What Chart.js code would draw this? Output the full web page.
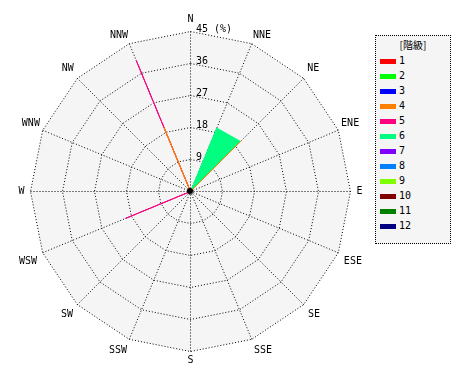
<!DOCTYPE html>
<html>
<head>
<meta charset="utf-8">
<script src="https://cdn.jsdelivr.net/npm/chart.js@4.4.0/dist/chart.umd.min.js"></script>
<style>
  body { margin: 0; background: #fff; font-family: "DejaVu Sans Mono", monospace; }
  #wrap { position: absolute; left: 0; top: 0; width: 380px; height: 380px; }
  #legend {
    position: absolute; left: 375px; top: 35px; width: 74px; height: 207px;
    border: 1px dotted #000; background: #f5f5f5; font-size: 10px; color: #000;
  }
  #legend .title { position: absolute; left: 0; width: 74px; top: 3px; text-align: center; color: #000;
    font-family: "Noto Sans CJK JP", "DejaVu Sans Mono", monospace; font-size: 10px; line-height: 12px; }
  #legend .item { position: absolute; left: 4px; height: 12px; line-height: 12px; }
  #legend .sw { position: absolute; left: 0; top: 4px; width: 16px; height: 5px; }
  #legend .lb { position: absolute; left: 19px; top: 0; }
</style>
</head>
<body>
<div id="wrap"><canvas id="rose"></canvas></div>
<div id="legend"></div>
<script>
// wind directions (clockwise from north)
const directions = ['N', 'NNE', 'NE', 'ENE', 'E', 'ESE', 'SE', 'SSE',
                    'S', 'SSW', 'SW', 'WSW', 'W', 'WNW', 'NW', 'NNW'];
const classNames = ['1', '2', '3', '4', '5', '6', '7', '8', '9', '10', '11', '12'];
const classColors = ['#ff0000', '#00ff00', '#0000ff', '#ff8000', '#ff0080', '#00ff80',
                     '#8000ff', '#0080ff', '#80ff00', '#800000', '#008000', '#000080'];
const tickLabels = ['0', '9', '18', '27', '36', '45 (%)'];

// frequency (%) per class, per direction
const class1  = [0, 0, 0, 0, 0, 0, 0, 0, 0, 0, 0, 0, 0, 0, 0, 0];
const class2  = [0, 0, 0, 0, 0, 0, 0, 0, 0, 0, 0, 0, 0, 0, 0, 0];
const class3  = [0, 0, 0, 0, 0, 0, 0, 0, 0, 0, 0, 0, 0, 0, 0, 0];
const class4  = [0, 0, 20.2, 0, 0, 0, 0, 0, 0, 0, 0, 0, 0, 0, 0, 19.5];
const class5  = [0, 0, 0, 0, 0, 0, 0, 0, 0, 0, 0, 19.8, 0, 0, 0, 39.8];
const class6  = [0, 19.3, 19.9, 0, 0, 0, 0, 0, 0, 0, 0, 0, 0, 0, 0, 0];
const class7  = [0, 0, 0, 0, 0, 0, 0, 0, 0, 0, 0, 0, 0, 0, 0, 0];
const class8  = [0, 0, 0, 0, 0, 0, 0, 0, 0, 0, 0, 0, 0, 0, 0, 0];
const class9  = [0, 0, 0, 0, 0, 0, 0, 0, 0, 0, 0, 0, 0, 0, 0, 0];
const class10 = [0, 0, 0, 0, 0, 0, 0, 0, 0, 0, 0, 0, 0, 0, 0, 0];
const class11 = [0, 0, 0, 0, 0, 0, 0, 0, 0, 0, 0, 0, 0, 0, 0, 0];
const class12 = [0, 0, 0, 0, 0, 0, 0, 0, 0, 0, 0, 0, 0, 0, 0, 0];
const classValues = [class1, class2, class3, class4, class5, class6,
                     class7, class8, class9, class10, class11, class12];

const monoFont = '"DejaVu Sans Mono", monospace';
// gap between the outer ring and each direction label
const labelPadding = [6, 3, 5, 3, 6, 6, 6, 6, 3, 6, 6, 6, 6, 3, 5, 3];

// half-pixel shift so the dotted grid lands on whole pixels
const crispPlugin = {
  id: 'crisp',
  beforeDraw(chart) {
    chart.ctx.save();
    chart.ctx.translate(0.5, 0.5);
  },
  afterDraw(chart) {
    chart.ctx.restore();
  }
};

// tick labels sit just right of the north axis, plus the hub dot
const tickLabelPlugin = {
  id: 'tickLabels',
  afterDraw(chart) {
    const s = chart.scales.r;
    const ctx = chart.ctx;
    ctx.save();
    ctx.font = '10px ' + monoFont;
    ctx.fillStyle = '#000';
    ctx.textAlign = 'left';
    ctx.textBaseline = 'middle';
    s.ticks.forEach((t, i) => {
      if (t.value === 0) return;
      const d = s.getDistanceFromCenterForValue(t.value);
      ctx.fillText(tickLabels[i], s.xCenter + 6, s.yCenter - d - 2);
    });
    ctx.beginPath();
    ctx.arc(s.xCenter, s.yCenter, 3, 0, Math.PI * 2);
    ctx.fill();
    ctx.restore();
  }
};

const datasets = classNames.map((name, i) => ({
  label: name,
  data: classValues[i],
  borderColor: classColors[i],
  backgroundColor: classColors[i],
  borderWidth: 1,
  pointRadius: 0,
  fill: 'origin'
}));

new Chart(document.getElementById('rose'), {
  type: 'radar',
  data: { labels: directions, datasets: datasets },
  options: {
    responsive: true,
    maintainAspectRatio: false,
    animation: false,
    layout: { padding: { top: 12, bottom: 12, left: 0, right: 0 } },
    plugins: { legend: { display: false }, tooltip: { enabled: false } },
    scales: {
      r: {
        min: 0,
        max: 45,
        backgroundColor: '#f5f5f5',
        ticks: { stepSize: 9, display: false },
        grid: { color: '#000', lineWidth: 1, circular: false },
        border: { dash: [1, 2] },
        angleLines: { color: '#000', lineWidth: 1, borderDash: [1, 2] },
        pointLabels: {
          font: { family: monoFont, size: 10 },
          color: '#000',
          padding: (ctx) => labelPadding[ctx.index]
        }
      }
    }
  },
  plugins: [crispPlugin, tickLabelPlugin]
});

// legend box
const legend = document.getElementById('legend');
legend.innerHTML = '<div class="title">[階級]</div>';
classNames.forEach((name, i) => {
  const item = document.createElement('div');
  item.className = 'item';
  item.style.top = (19 + i * 15) + 'px';
  item.innerHTML = '<span class="sw" style="background:' + classColors[i] + '"></span>' +
                   '<span class="lb">' + name + '</span>';
  legend.appendChild(item);
});
</script>
</body>
</html>
